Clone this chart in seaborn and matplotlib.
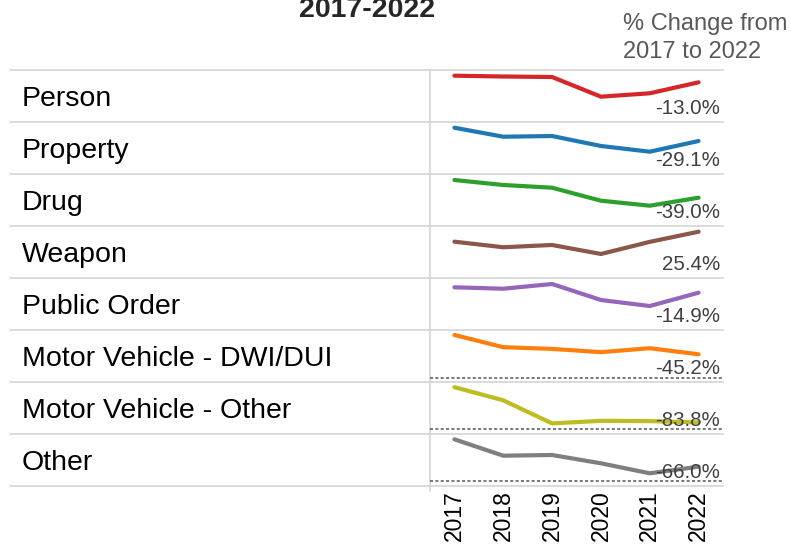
import matplotlib
matplotlib.use("Agg")
import matplotlib.pyplot as plt
import seaborn as sns
import pandas as pd
from matplotlib.lines import Line2D

# Data: index values (2017 = 100)
years = [2017, 2018, 2019, 2020, 2021, 2022]
categories = [
    "Person", "Property", "Drug", "Weapon", "Public Order",
    "Motor Vehicle - DWI/DUI", "Motor Vehicle - Other", "Other",
]
person = [100, 98.4, 97.4, 58.7, 65.4, 87.0]
property_ = [100, 80.3, 81.8, 60.0, 47.5, 70.9]
drug = [100, 89.0, 83.0, 54.4, 43.4, 61.0]
weapon = [100, 85.8, 91.6, 68.7, 99.5, 125.4]
public_order = [100, 96.1, 109.1, 64.9, 48.3, 85.1]
mv_dwi = [100, 71.4, 67.4, 59.8, 69.0, 54.8]
mv_other = [100, 68.7, 13.9, 20.0, 19.3, 16.2]
other = [100, 60.5, 62.2, 42.2, 18.1, 34.0]
pct_labels = ["-13.0%", "-29.1%", "-39.0%", "25.4%", "-14.9%", "-45.2%", "-83.8%", "-66.0%"]

colors = ["#d62728", "#1f77b4", "#2ca02c", "#8c564b", "#9467bd", "#ff7f0e", "#bcbd22", "#7f7f7f"]
# per-row y ranges (each row has its own auto scale)
ylims = [(8.9, 111.2), (-1.3, 112.5), (-1.3, 113.2), (7.6, 139.9),
         (-18.0, 125.7), (-10.0, 111.6), (-11.3, 112.2), (-12.5, 112.8)]
zero_line_rows = {"Motor Vehicle - DWI/DUI", "Motor Vehicle - Other", "Other"}

series = [person, property_, drug, weapon, public_order, mv_dwi, mv_other, other]
df = pd.DataFrame(
    [(c, y, v) for c, vals in zip(categories, series) for y, v in zip(years, vals)],
    columns=["category", "year", "value"],
)

sns.set_style("white")
plt.rcParams["font.family"] = ["Liberation Sans", "DejaVu Sans"]

W, H = 791, 546
fig = plt.figure(figsize=(W / 100, H / 100), dpi=100)

# layout in pixels
top0, row_h = 70, 52
left_lbl, panel_l, panel_r = 10, 430, 723
grid_c = "#d4d4d4"

bg = fig.add_axes([0, 0, 1, 1], zorder=-1)
bg.set_xlim(0, W)
bg.set_ylim(H, 0)
bg.axis("off")

n = len(categories)
for i in range(n + 1):
    y = top0 + i * row_h
    bg.add_line(Line2D([left_lbl, panel_r], [y, y], color=grid_c, lw=1.2))
bg.add_line(Line2D([panel_l, panel_l], [top0, top0 + n * row_h + 5], color=grid_c, lw=1.2))


def fx(px):
    return px / W


def fy(py):
    return 1 - py / H


for i, cat in enumerate(categories):
    row_top = top0 + i * row_h
    row_bot = row_top + row_h
    ax = fig.add_axes([fx(panel_l), fy(row_bot), fx(panel_r - panel_l), row_h / H])
    sub = df[df["category"] == cat]
    sns.lineplot(data=sub, x="year", y="value", ax=ax, color=colors[i], lw=3,
                 solid_capstyle="round")
    if cat in zero_line_rows:
        ax.axhline(0, color="#555555", lw=1.1, ls=(0, (2, 1.5)))
    ax.set_xlim(years[0] - 0.5, years[-1] + 0.5)
    ax.set_ylim(*ylims[i])
    ax.patch.set_alpha(0)
    for s in ax.spines.values():
        s.set_visible(False)
    ax.set_xlabel("")
    ax.set_ylabel("")
    ax.set_yticks([])
    if i == n - 1:
        ax.set_xticks(years)
        ax.set_xticklabels([str(y) for y in years], rotation=90, fontsize=16.5)
        ax.set_xticks([y - 0.5 for y in years] + [years[-1] + 0.5], minor=True)
        ax.tick_params(axis="x", which="major", length=0, pad=3, colors="black")
        ax.tick_params(axis="x", which="minor", length=4, width=1.2,
                       color=grid_c, direction="out")
    else:
        ax.set_xticks([])

    fig.text(fx(22), fy(row_bot - 16), cat, fontsize=20.5, color="black", va="baseline")
    fig.text(fx(720), fy(row_bot - 8), pct_labels[i], fontsize=14.8, color="#404040",
             ha="right", va="baseline", zorder=5)

# title sits partly above the top edge, as in the source
fig.text(fx(367), fy(17), "2017-2022", fontsize=20.5, fontweight="bold",
         ha="center", va="baseline")
fig.text(fx(623), fy(30), "% Change from", fontsize=17, color="#595959", va="baseline")
fig.text(fx(623), fy(58), "2017 to 2022", fontsize=17, color="#595959", va="baseline")

fig.savefig("out.png", dpi=100)
